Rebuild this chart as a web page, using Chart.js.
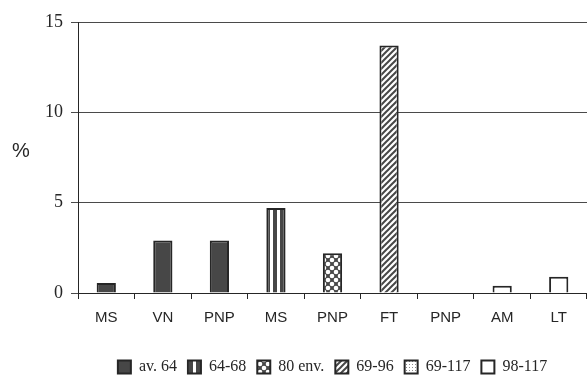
<!DOCTYPE html>
<html>
<head>
<meta charset="utf-8">
<script src="https://cdn.jsdelivr.net/npm/chart.js@4.4.1/dist/chart.umd.min.js"></script>
<style>
  html, body { margin: 0; padding: 0; background: #fff; }
  #wrap { width: 587px; height: 377px; }
</style>
</head>
<body>
<div id="wrap"><canvas id="chart" width="587" height="377"></canvas></div>
<script>
// categories along the x axis
const categories = ['MS', 'VN', 'PNP', 'MS', 'PNP', 'FT', 'PNP', 'AM', 'LT'];
// series (legend) names
const seriesNames = ['av. 64', '64-68', '80 env.', '69-96', '69-117', '98-117'];
// values in %, one array per series (null = no bar in that category)
const av64    = [0.55, 2.9, 2.9, null, null, null, null, null, null];
const s6468   = [null, null, null, 4.7, null, null, null, null, null];
const env80   = [null, null, null, null, 2.2, null, null, null, null];
const s6996   = [null, null, null, null, null, 13.7, null, null, null];
const s69117  = [null, null, null, null, null, null, 0, null, null];
const s98117  = [null, null, null, null, null, null, null, 0.4, 0.9];
const yTicks  = [0, 5, 10, 15];

const dark = '#474747';
const ink = '#262626';
const serif = '"Liberation Serif", "Times New Roman", serif';
const sans = '"Liberation Sans", Arial, sans-serif';

// small helper to build fill patterns
function makePattern(w, h, draw) {
  const c = document.createElement('canvas');
  c.width = w; c.height = h;
  const g = c.getContext('2d');
  draw(g, w, h);
  return g.createPattern(c, 'repeat');
}

const solid = dark;
const vstripes = makePattern(7, 7, (g) => {
  g.fillStyle = '#fff'; g.fillRect(0, 0, 7, 7);
  g.fillStyle = dark; g.fillRect(0, 0, 4, 7);
});
const circles = makePattern(8, 8, (g) => {
  g.fillStyle = dark; g.fillRect(0, 0, 8, 8);
  g.fillStyle = '#fff';
  [[4, 4], [0, 0], [8, 0], [0, 8], [8, 8]].forEach(([x, y]) => {
    g.beginPath(); g.arc(x, y, 2.3, 0, Math.PI * 2); g.fill();
  });
});
const diag = makePattern(6, 6, (g) => {
  g.fillStyle = '#fff'; g.fillRect(0, 0, 6, 6);
  g.strokeStyle = dark; g.lineWidth = 2;
  [[-3, 3, 3, -3], [0, 6, 6, 0], [3, 9, 9, 3]].forEach(([a, b, c, d]) => {
    g.beginPath(); g.moveTo(a, b); g.lineTo(c, d); g.stroke();
  });
});
const dots = makePattern(3, 3, (g) => {
  g.fillStyle = '#fff'; g.fillRect(0, 0, 3, 3);
  g.fillStyle = '#8a8a8a'; g.fillRect(1, 1, 1, 1);
});

const seriesData = [av64, s6468, env80, s6996, s69117, s98117];
const fills = [solid, vstripes, circles, diag, dots, '#ffffff'];

const datasets = seriesNames.map((name, i) => ({
  label: name,
  data: seriesData[i],
  backgroundColor: fills[i],
  borderColor: ink,
  borderWidth: 2,
  barPercentage: 0.34,
  categoryPercentage: 1,
}));

// "%" axis label drawn horizontally like the original
const percentLabel = {
  id: 'percentLabel',
  afterDraw(chart) {
    const ctx = chart.ctx;
    ctx.save();
    ctx.font = '20px ' + sans;
    ctx.fillStyle = ink;
    ctx.textAlign = 'center';
    ctx.textBaseline = 'middle';
    ctx.fillText('%', 21, 151);
    ctx.restore();
  }
};

new Chart(document.getElementById('chart'), {
  type: 'bar',
  data: { labels: categories, datasets },
  plugins: [percentLabel],
  options: {
    responsive: false,
    animation: false,
    skipNull: true,
    layout: { padding: { top: 22, right: 0, left: 0, bottom: -8 } },
    plugins: {
      tooltip: { enabled: false },
      legend: {
        position: 'bottom',
        fullSize: false,
        labels: {
          boxWidth: 13,
          boxHeight: 13,
          padding: 11,
          color: ink,
          font: { family: serif, size: 16 },
        },
      },
    },
    scales: {
      x: {
        offset: true,
        afterFit: (s) => { s.height = 55; },
        grid: {
          display: true,
          offset: true,
          drawOnChartArea: false,
          tickLength: 6,
          color: ink,
        },
        border: { display: true, color: ink, width: 1 },
        ticks: {
          color: ink,
          padding: 10,
          font: { family: sans, size: 15 },
        },
      },
      y: {
        min: 0,
        max: 15,
        afterFit: (s) => { s.width = 78; },
        afterBuildTicks: (s) => { s.ticks = yTicks.map(v => ({ value: v })); },
        grid: {
          color: '#4a4a4a',
          lineWidth: 1,
          tickLength: 7,
        },
        border: { display: true, color: ink, width: 1 },
        ticks: {
          color: ink,
          padding: 8,
          font: { family: serif, size: 18 },
        },
      },
    },
  },
});
</script>
</body>
</html>
